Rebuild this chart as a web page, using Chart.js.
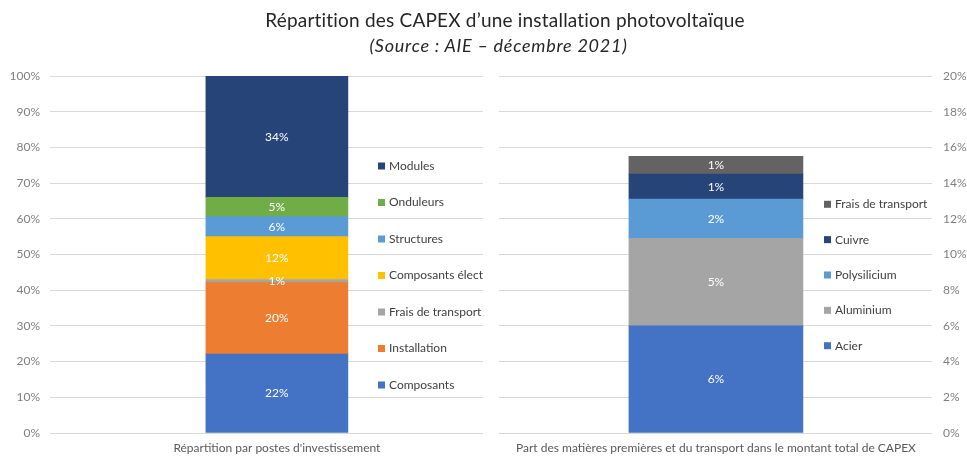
<!DOCTYPE html>
<html lang="fr">
<head>
<meta charset="utf-8">
<script src="https://cdn.jsdelivr.net/npm/chart.js@4.4.0/dist/chart.umd.min.js"></script>
<style>
  body { margin: 0; background: #fff; font-family: Lato, sans-serif; }
  #cadre { position: relative; width: 967px; height: 456px; overflow: hidden; }
  .titre { position: absolute; left: 0; text-align: center; color: #262626; white-space: nowrap; }
  #t1 { top: 10px; width: 1010px; font-size: 19px; line-height: 19px; letter-spacing: 0.2px; }
  #t2 { top: 36px; width: 997px; font-size: 18px; line-height: 18px; font-style: italic; letter-spacing: 0.75px; }
  canvas { position: absolute; top: 0; }
  #gauche { left: 0; }
  #droite { left: 491px; }
</style>
</head>
<body>
<div id="cadre">
  <canvas id="gauche" width="491" height="456"></canvas>
  <canvas id="droite" width="476" height="456"></canvas>
  <div class="titre" id="t1">Répartition des CAPEX d’une installation photovoltaïque</div>
  <div class="titre" id="t2">(Source : AIE – décembre 2021)</div>
</div>
<script>
// graphique de gauche : postes d'investissement (en % du total)
var categorieGauche = 'Répartition par postes d\'investissement';
var postes = ['Composants', 'Installation', 'Frais de transport', 'Composants élect', 'Structures', 'Onduleurs', 'Modules'];
var partsPostes = [22.1, 20.0, 0.9, 12.0, 5.6, 5.4, 34.0];
var couleursPostes = ['#4472C4', '#ED7D31', '#A5A5A5', '#FFC000', '#5B9BD5', '#70AD47', '#264478'];

// graphique de droite : matières premières et transport (en % des CAPEX)
var categorieDroite = 'Part des matières premières et du transport dans le montant total de CAPEX';
var matieres = ['Acier', 'Aluminium', 'Polysilicium', 'Cuivre', 'Frais de transport'];
var partsMatieres = [6.0, 4.9, 2.2, 1.4, 1.0];
var couleursMatieres = ['#4472C4', '#A5A5A5', '#5B9BD5', '#264478', '#636363'];

var policeAxe = 'Lato, sans-serif';

// pourcentages blancs au milieu de chaque segment
var etiquettes = {
    id: 'etiquettes',
    afterDatasetsDraw: function(chart) {
        var ctx = chart.ctx;
        ctx.save();
        ctx.font = '12px ' + policeAxe;
        ctx.fillStyle = '#ffffff';
        ctx.textAlign = 'center';
        ctx.textBaseline = 'middle';
        chart.data.datasets.forEach(function(ds, i) {
            chart.getDatasetMeta(i).data.forEach(function(barre, j) {
                ctx.fillText(Math.round(ds.data[j].y) + '%', barre.x, (barre.y + barre.base) / 2);
            });
        });
        ctx.restore();
    }
};

// légende à côté de la barre, ordre inversé comme dans Excel
var legende = {
    id: 'legende',
    afterDraw: function(chart, args, opts) {
        var ctx = chart.ctx;
        ctx.save();
        ctx.font = '12px ' + policeAxe;
        ctx.textBaseline = 'middle';
        ctx.textAlign = 'left';
        chart.data.datasets.slice().reverse().forEach(function(ds, k) {
            var y = opts.haut + k * opts.pas;
            ctx.fillStyle = ds.backgroundColor;
            ctx.fillRect(opts.x, y - 3.5, 7, 7);
            ctx.fillStyle = '#404040';
            ctx.fillText(ds.label, opts.x + 11, y);
        });
        ctx.restore();
    }
};

function graphique(id, noms, valeurs, couleurs, categorie, cfg) {
    var datasets = noms.map(function(nom, i) {
        return {
            label: nom,
            data: [{ x: cfg.posBarre, y: valeurs[i] }],
            backgroundColor: couleurs[i],
            barThickness: cfg.largeur
        };
    });
    return new Chart(document.getElementById(id), {
        type: 'bar',
        data: { datasets: datasets },
        plugins: [etiquettes, legende],
        options: {
            responsive: false,
            animation: false,
            layout: { padding: cfg.marges },
            scales: {
                x: {
                    type: 'linear',
                    min: 0,
                    max: 1,
                    offset: false,
                    stacked: true,
                    grid: { display: false, drawTicks: false },
                    border: { display: false },
                    afterBuildTicks: function(axe) { axe.ticks = [{ value: cfg.posBarre }]; },
                    afterFit: function(axe) { axe.height = 23; },
                    ticks: {
                        padding: 8,
                        maxRotation: 0,
                        color: '#595959',
                        font: { family: policeAxe, size: 12 },
                        callback: function() { return categorie; }
                    }
                },
                y: {
                    position: cfg.cote,
                    min: 0,
                    max: cfg.max,
                    stacked: true,
                    grid: { color: '#d9d9d9', drawTicks: false },
                    border: { display: false },
                    afterFit: function(axe) { axe.width = cfg.largeurAxe; },
                    ticks: {
                        stepSize: cfg.pasY,
                        padding: cfg.padY,
                        color: '#7f7f7f',
                        font: { family: policeAxe, size: 12 },
                        callback: function(v) { return v + '%'; }
                    }
                }
            },
            plugins: {
                legend: { display: false },
                tooltip: { enabled: false },
                legende: cfg.legende
            }
        }
    });
}

graphique('gauche', postes, partsPostes, couleursPostes, categorieGauche, {
    posBarre: 0.524, largeur: 142, max: 100, pasY: 10, cote: 'left',
    largeurAxe: 50, padY: 10,
    marges: { top: 76, right: 8, bottom: 0, left: 0 },
    legende: { x: 378, haut: 166, pas: 36.5 }
});

graphique('droite', matieres, partsMatieres, couleursMatieres, categorieDroite, {
    posBarre: 0.501, largeur: 174, max: 20, pasY: 2, cote: 'right',
    largeurAxe: 35, padY: 11,
    marges: { top: 76, right: 0, bottom: 0, left: 8 },
    legende: { x: 333, haut: 204.3, pas: 35.35 }
});
</script>
</body>
</html>
